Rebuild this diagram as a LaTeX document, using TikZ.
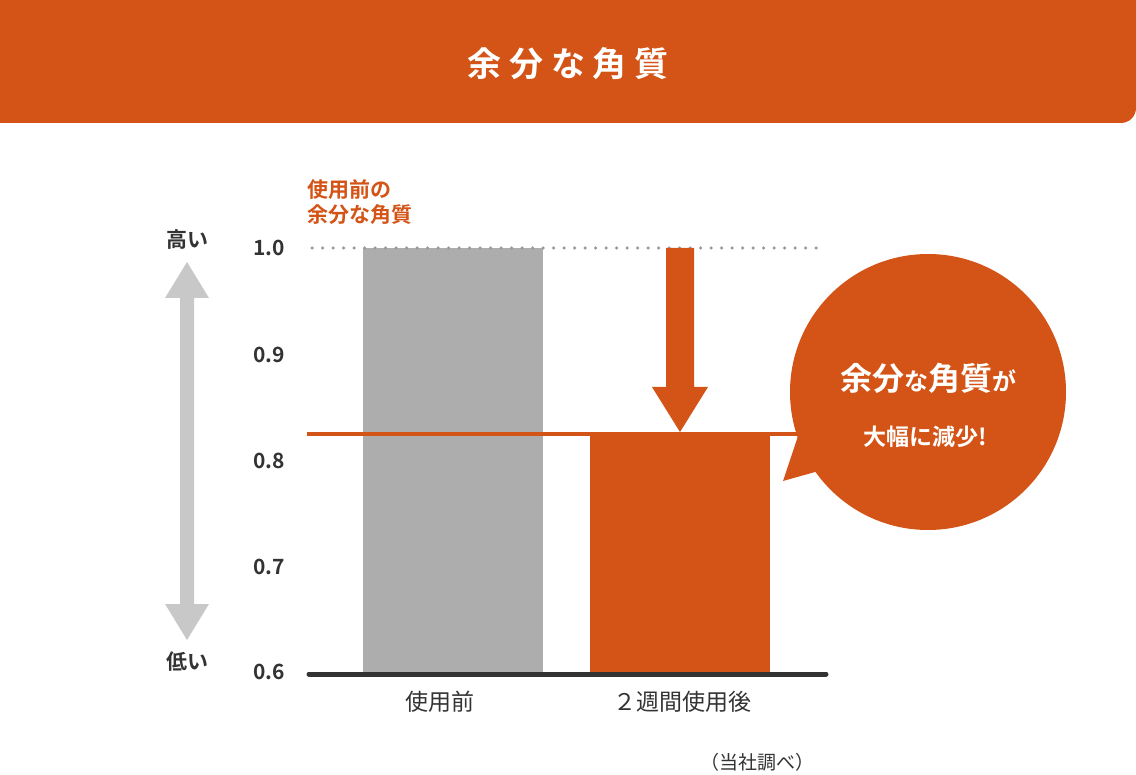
\documentclass[tikz,border=0pt]{standalone}
\usepackage{fontspec}
\setmainfont{Noto Sans CJK JP}
\newfontfamily\jpbold{Noto Sans CJK JP Bold}
\usetikzlibrary{positioning}
\definecolor{hiOrange}{HTML}{D35416}
\definecolor{barGray}{HTML}{ADADAD}
\definecolor{axGray}{HTML}{C8C8C8}
\definecolor{txDark}{HTML}{333333}
\tikzset{
  tick/.style={font=\jpbold\fontsize{21}{21}\selectfont, text=txDark, anchor=center},
  cat/.style={font=\fontsize{23}{23}\selectfont, text=txDark},
  bubtext/.style={font=\jpbold, text=white}
}
\begin{document}
\begin{tikzpicture}[x=1pt,y=-1pt]
    \useasboundingbox (0,0) rectangle (1136,775);

    % title banner
    \fill[hiOrange] (0,0) -- (1136,0) -- (1136,108) arc[start angle=0,end angle=90,radius=15] -- (0,123) -- cycle;
    \node[font=\jpbold\fontsize{34}{34}\selectfont, text=white] (title) at (568,64) {余\ 分\ な\ 角\ 質};

    % bars
    \fill[barGray] (363,248) rectangle (543,672);
    \fill[hiOrange] (590,435) rectangle (770,672);
    \draw[gray!80, line width=3.5pt, line cap=round, dash pattern=on 0pt off 10.5pt] (312,248) -- (826,248);
    \draw[hiOrange, line width=4pt] (307,434) -- (800,434);
    \draw[txDark, line width=5pt, line cap=round] (309,674) -- (826,674);

    % down arrow
    \fill[hiOrange] (666,248) -- (694,248) -- (694,387) -- (708,387) -- (680,432) -- (652,387) -- (666,387) -- cycle;

    % speech bubble
    \fill[hiOrange] (928,392) circle (138);
    \fill[hiOrange] (800,430) -- (783,481) -- (840,465) -- cycle;
    \node[bubtext, anchor=center] (bubA) at (928,378) {{\fontsize{32}{32}\selectfont 余分}{\fontsize{24}{24}\selectfont な}{\fontsize{32}{32}\selectfont 角質}{\fontsize{24}{24}\selectfont が}};
    \node[bubtext, font=\jpbold\fontsize{23}{23}\selectfont] (bubB) at (925,437) {大幅に減少!};

    % axis ticks
    \node[tick] (t10) at (269,248) {1.0};
    \node[tick] (t09) at (269,355) {0.9};
    \node[tick] (t08) at (269,461) {0.8};
    \node[tick] (t07) at (269,567) {0.7};
    \node[tick] (t06) at (269,672) {0.6};

    % high-low arrow
    \fill[axGray] (187,262) -- (209,298) -- (194,298) -- (194,604) -- (209,604) -- (187,640) -- (165,604) -- (180,604) -- (180,298) -- (165,298) -- cycle;
    \node[tick] (hi) at (187,240) {高い};
    \node[tick] (lo) at (187,662) {低い};

    % labels
    \node[font=\jpbold\fontsize{21}{25}\selectfont, text=hiOrange, align=left, anchor=west] (before) at (304,202) {使用前の\\余分な角質};
    \node[cat] (catA) at (440,702) {使用前};
    \node[cat] (catB) at (682,702) {２週間使用後};
    \node[font=\fontsize{19}{19}\selectfont, text=txDark] (note) at (757,762) {（当社調べ）};
\end{tikzpicture}
\end{document}
